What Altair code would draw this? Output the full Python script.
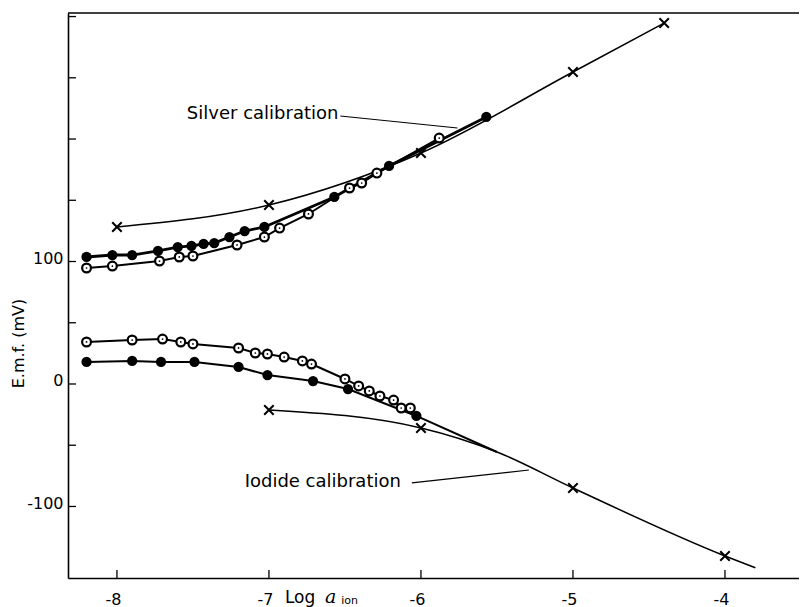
import altair as alt
import pandas as pd

# ---------------- data ----------------
# Silver (upper) curves
ag_filled_x = [-8.20, -8.03, -7.90, -7.73, -7.60, -7.51, -7.43, -7.36, -7.26, -7.16, -7.03, -6.57, -6.21, -5.57]
ag_filled_y = [103.7, 105.3, 105.3, 108.6, 111.8, 112.7, 114.3, 115.1, 120.0, 124.9, 128.2, 152.7, 178.0, 218.0]
ag_open_x = [-8.20, -8.03, -7.72, -7.59, -7.50, -7.21, -7.03, -6.93, -6.74, -6.47, -6.39, -6.29, -5.88]
ag_open_y = [94.7, 96.3, 100.4, 103.7, 104.5, 113.5, 120.0, 127.3, 138.8, 160.0, 164.1, 172.2, 200.8]
ag_cal_x = [-8.0, -7.0, -6.0, -5.0, -4.4]
ag_cal_y = [128.2, 146.1, 188.6, 254.7, 294.7]

# Iodide (lower) curves
io_open_x = [-8.20, -7.90, -7.70, -7.58, -7.50, -7.20, -7.09, -7.01, -6.90, -6.78, -6.72,
             -6.50, -6.41, -6.34, -6.27, -6.18, -6.13, -6.07]
io_open_y = [34.3, 35.9, 36.7, 34.3, 32.7, 29.4, 25.3, 24.5, 22.0, 18.8, 16.3,
             4.1, -1.6, -5.7, -9.8, -13.1, -19.6, -19.6]
io_filled_x = [-8.20, -7.90, -7.71, -7.49, -7.20, -7.01, -6.71, -6.48, -6.03]
io_filled_y = [18.0, 18.8, 18.0, 18.0, 13.9, 7.3, 2.4, -4.1, -26.1]
io_cal_x = [-7.0, -6.0, -5.0, -4.0]
io_cal_y = [-21.2, -35.9, -84.9, -140.4]
# vertices of the iodide calibration line (joins the main line near -5.5, runs on to -3.8)
io_line_x = [-7.0, -6.0, -5.5, -5.0, -4.0, -3.8]
io_line_y = [-21.2, -35.9, -55.5, -84.9, -140.4, -150.0]
# filled iodide line runs into the main line
io_filled_line_x = io_filled_x + [-5.5]
io_filled_line_y = io_filled_y + [-55.5]

x_ticks = [-8, -7, -6, -5, -4]
y_labels = [-100, 0, 100]
y_ticks = [-100, -50, 0, 50, 100, 150, 200, 250, 300]

ann_text = ["Silver calibration", "Iodide calibration"]
ann_x = [-7.54, -7.16]
ann_y = [216.3, -84.1]
lead_x = [-6.53, -6.06]
lead_y = [218.8, -80.8]
lead_x2 = [-5.76, -5.29]
lead_y2 = [209.0, -70.2]

# ---------------- chart ----------------
W, H = 731, 565
FONT = "DejaVu Sans"
xs = alt.Scale(domain=[-8.322, -3.513], nice=False, zero=False)
ys = alt.Scale(domain=[-158.4, 302.9], nice=False, zero=False)

LBL = "datum.value < 0 ? '-' + abs(datum.value) : '' + datum.value"
x_axis = alt.Axis(values=x_ticks, labelExpr=LBL,
                  ticks=False, tickSize=0, grid=False, title=None, domainColor="black", domainWidth=1.6,
                  labelFont=FONT, labelFontSize=16, labelColor="black", labelPadding=13, labelOffset=-4)
y_axis = alt.Axis(values=y_labels, labelExpr=LBL,
                  ticks=False, tickSize=0, grid=False, domainColor="black", domainWidth=1.6,
                  labelFont=FONT, labelFontSize=16, labelColor="black", labelPadding=5,
                  labelBaseline="middle", labelOffset=-3,
                  title="E.m.f. (mV)", titleFont=FONT, titleFontSize=16, titleFontWeight="normal",
                  titleColor="black", titleAngle=270, titleX=-50, titleY=330,
                  titleAlign="center", titleBaseline="middle")


def df(x, y):
    return pd.DataFrame({"x": x, "y": y})


def enc():
    return dict(
        x=alt.X("x:Q", scale=xs, axis=x_axis),
        y=alt.Y("y:Q", scale=ys, axis=y_axis),
    )


# lines
line_ag_cal = alt.Chart(df(ag_cal_x, ag_cal_y)).mark_line(color="black", strokeWidth=1.5, interpolate="monotone").encode(**enc())
line_ag_f = alt.Chart(df(ag_filled_x, ag_filled_y)).mark_line(color="black", strokeWidth=2.8).encode(**enc())
line_ag_o = alt.Chart(df(ag_open_x, ag_open_y)).mark_line(color="black", strokeWidth=2).encode(**enc())
line_io_cal = alt.Chart(df(io_line_x, io_line_y)).mark_line(color="black", strokeWidth=1.5, interpolate="monotone").encode(**enc())
line_io_f = alt.Chart(df(io_filled_line_x, io_filled_line_y)).mark_line(color="black", strokeWidth=2).encode(**enc())
line_io_o = alt.Chart(df(io_open_x, io_open_y)).mark_line(color="black", strokeWidth=2).encode(**enc())

# markers
filled_df = df(ag_filled_x + io_filled_x, ag_filled_y + io_filled_y)
open_df = df(ag_open_x + io_open_x, ag_open_y + io_open_y)
cal_df = df(ag_cal_x + io_cal_x, ag_cal_y + io_cal_y)

pts_filled = alt.Chart(filled_df).mark_point(shape="circle", filled=True, color="black", size=105, opacity=1).encode(**enc())
pts_open = alt.Chart(open_df).mark_point(shape="circle", filled=True, fill="white", stroke="black",
                                         strokeWidth=2.2, size=78, opacity=1).encode(**enc())
pts_open_dot = alt.Chart(open_df).mark_point(shape="circle", filled=True, color="black", size=3, opacity=1).encode(**enc())
pts_cal = alt.Chart(cal_df).mark_point(shape="M-1,-1L1,1M1,-1L-1,1", filled=False, color="black",
                                       strokeWidth=2, size=90, opacity=1).encode(**enc())

# axis ticks (inward) and top border
ytick_df = pd.DataFrame({"y": y_ticks})
xtick_df = pd.DataFrame({"x": x_ticks})
yticks = alt.Chart(ytick_df).mark_rule(color="black", strokeWidth=1.3).encode(
    y=alt.Y("y:Q", scale=ys, axis=y_axis), x=alt.value(0), x2=alt.value(8))
xticks = alt.Chart(xtick_df).mark_rule(color="black", strokeWidth=1.3).encode(
    x=alt.X("x:Q", scale=xs, axis=x_axis), y=alt.value(H), y2=alt.value(H - 8))
top_border = alt.Chart(pd.DataFrame({"y": [0]})).mark_rule(color="black", strokeWidth=1.6).encode(
    x=alt.value(0), x2=alt.value(W), y=alt.value(0))

# annotations
ann_df = pd.DataFrame({"x": ann_x, "y": ann_y, "t": ann_text})
ann = alt.Chart(ann_df).mark_text(font=FONT, fontSize=18, align="left", baseline="alphabetic", color="black").encode(
    text="t:N", **enc())
lead_df = pd.DataFrame({"x": lead_x, "y": lead_y, "x2": lead_x2, "y2": lead_y2})
leaders = alt.Chart(lead_df).mark_rule(color="black", strokeWidth=1.2).encode(
    x2="x2:Q", y2="y2:Q", **enc())

# x-axis title "Log a_ion"
xt_log = alt.Chart(pd.DataFrame({"x": [-6.895], "y": [-178.8], "t": ["Log"]})).mark_text(
    font=FONT, fontSize=17, align="left", baseline="alphabetic", color="black").encode(text="t:N", **enc())
xt_a = alt.Chart(pd.DataFrame({"x": [-6.632], "y": [-178.8], "t": ["a"]})).mark_text(
    font="DejaVu Serif", fontStyle="italic", fontSize=19, align="left", baseline="alphabetic", color="black").encode(
    text="t:N", **enc())
xt_ion = alt.Chart(pd.DataFrame({"x": [-6.525], "y": [-179.6], "t": ["ion"]})).mark_text(
    font=FONT, fontSize=11, align="left", baseline="alphabetic", color="black").encode(text="t:N", **enc())

chart = alt.layer(
    top_border, yticks, xticks,
    line_ag_cal, line_ag_f, line_ag_o, line_io_cal, line_io_f, line_io_o,
    pts_filled, pts_open, pts_open_dot, pts_cal,
    leaders, ann, xt_log, xt_a, xt_ion,
).properties(
    width=W, height=H,
    autosize=alt.AutoSizeParams(type="none"),
    padding={"left": 60, "top": 5, "right": 0, "bottom": 30},
    background="white",
).configure_view(stroke=None)

chart.save("out.html", embed_options={"renderer": "svg", "actions": False})
